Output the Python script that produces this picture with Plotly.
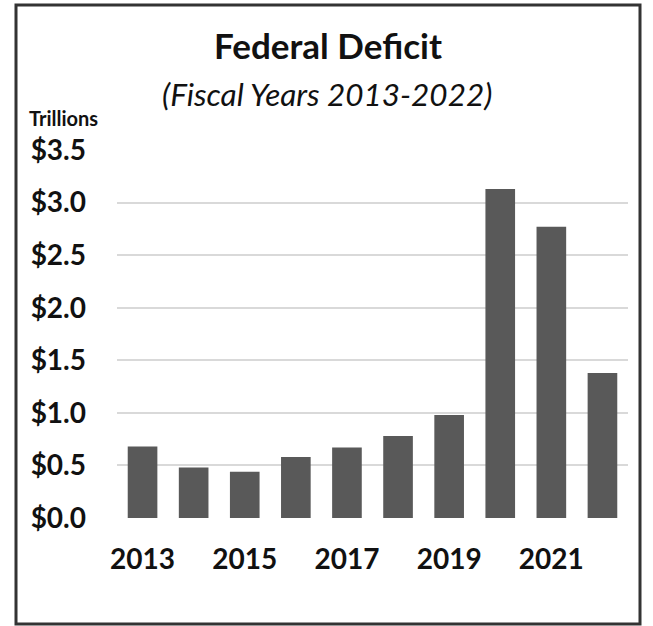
import plotly.graph_objects as go

years = [2013, 2014, 2015, 2016, 2017, 2018, 2019, 2020, 2021, 2022]
deficit = [0.68, 0.48, 0.44, 0.58, 0.67, 0.78, 0.98, 3.13, 2.77, 1.38]
x_ticks = [2013, 2015, 2017, 2019, 2021]
y_ticks = [0, 0.5, 1.0, 1.5, 2.0, 2.5, 3.0, 3.5]

W, H = 653, 626
L, R, T, B = 117, 25, 150, 108
pw, ph = W - L - R, H - T - B

FONT = "Lato"

fig = go.Figure(go.Bar(x=years, y=deficit, width=0.58, marker=dict(color="#595959", line=dict(width=0))))

def px(x):
    return (x - L) / pw

def py(y):
    return (H - B - y) / ph

fig.update_layout(
    width=W, height=H,
    margin=dict(l=L, r=R, t=T, b=B),
    paper_bgcolor="white", plot_bgcolor="white",
    showlegend=False,
    font=dict(family=FONT, color="#111111"),
    title=dict(text="<b>Federal Deficit</b>", x=328 / W, xanchor="center",
               y=1 - 47 / H, yanchor="middle", yref="container",
               font=dict(family=FONT, size=35, color="#111111")),
    xaxis=dict(range=[2012.5, 2022.5], tickmode="array", tickvals=x_ticks,
               ticktext=[str(v) for v in x_ticks], showgrid=False, zeroline=False,
               showline=False, ticks="", ticklabelstandoff=22,
               tickfont=dict(family=FONT, size=28, color="#111111", weight="bold")),
    yaxis=dict(range=[0, 3.5], tickmode="array", tickvals=y_ticks,
               ticktext=["$%.1f" % v for v in y_ticks], showgrid=True,
               gridcolor="#d9d9d9", gridwidth=2, zeroline=False, showline=False,
               ticks="", ticklabelstandoff=30,
               tickfont=dict(family=FONT, size=28, color="#111111", weight="bold")),
    annotations=[
        dict(text="<i>(Fiscal Years 2013-2022)</i>", xref="paper", yref="paper",
             x=px(327), y=py(94), xanchor="center", yanchor="middle", showarrow=False,
             font=dict(family=FONT, size=31.5, color="#111111")),
        dict(text="<b>Trillions</b>", xref="paper", yref="paper",
             x=px(27), y=py(118), xanchor="left", yanchor="middle", showarrow=False,
             font=dict(family=FONT, size=20, color="#111111")),
    ],
    shapes=[dict(type="rect", xref="paper", yref="paper",
                 x0=px(16), x1=px(640), y0=py(624), y1=py(5),
                 line=dict(color="#333333", width=3), layer="above")],
)

fig.write_html("out.html")
